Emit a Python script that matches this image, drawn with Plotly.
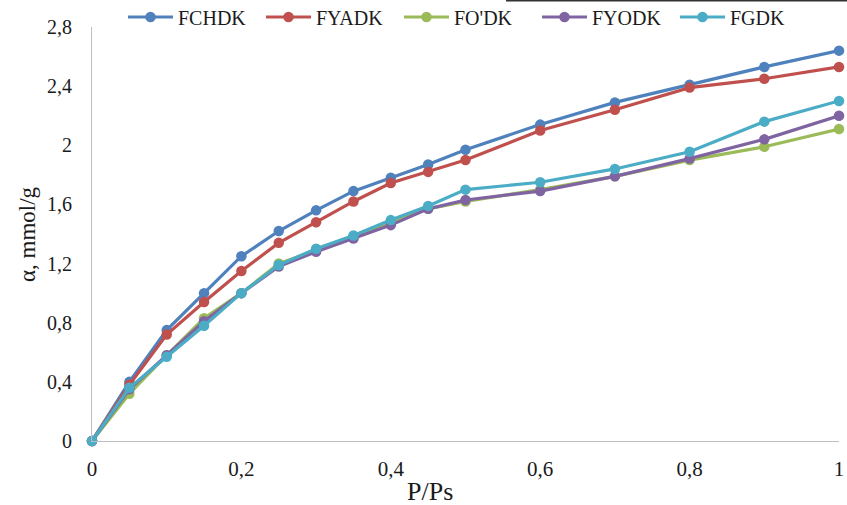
import plotly.graph_objects as go

x_vals = [0, 0.05, 0.1, 0.15, 0.2, 0.25, 0.3, 0.35, 0.4, 0.45, 0.5, 0.6, 0.7, 0.8, 0.9, 1.0]

fchdk = [0, 0.40, 0.75, 1.00, 1.25, 1.42, 1.56, 1.69, 1.78, 1.87, 1.97, 2.14, 2.29, 2.41, 2.53, 2.64]
fyadk = [0, 0.38, 0.72, 0.94, 1.15, 1.34, 1.48, 1.62, 1.745, 1.82, 1.90, 2.10, 2.24, 2.39, 2.45, 2.53]
fodk  = [0, 0.32, 0.58, 0.83, 1.00, 1.20, 1.29, 1.38, 1.48, 1.57, 1.62, 1.70, 1.79, 1.90, 1.99, 2.11]
fyodk = [0, 0.35, 0.58, 0.81, 1.00, 1.18, 1.28, 1.37, 1.46, 1.57, 1.63, 1.69, 1.79, 1.91, 2.04, 2.20]
fgdk  = [0, 0.36, 0.57, 0.78, 1.00, 1.19, 1.30, 1.39, 1.494, 1.59, 1.70, 1.75, 1.84, 1.956, 2.16, 2.30]

series_names = ["FCHDK", "FYADK", "FO'DK", "FYODK", "FGDK"]
series_vals = [fchdk, fyadk, fodk, fyodk, fgdk]
colors = ["#4F81BD", "#C0504D", "#9BBB59", "#8064A2", "#4BACC6"]

x_ticks = [0, 0.2, 0.4, 0.6, 0.8, 1.0]
y_ticks = [0, 0.4, 0.8, 1.2, 1.6, 2.0, 2.4, 2.8]

fig = go.Figure()
for name, vals, c in zip(series_names, series_vals, colors):
    fig.add_trace(go.Scatter(
        x=x_vals, y=vals, name=name, mode="lines+markers",
        line=dict(color=c, width=3.2),
        marker=dict(color=c, size=10.5, symbol="circle"),
        cliponaxis=False,
    ))

serif = "Liberation Serif, Times New Roman, serif"
H = 441.0  # plot-region height in px (margin t=0)

fig.update_layout(
    width=847, height=505,
    margin=dict(l=92, r=8, t=0, b=64, autoexpand=False),
    paper_bgcolor="white", plot_bgcolor="white",
    separators=", ",
    font=dict(family=serif, color="#1a1a1a", size=20),
    showlegend=True,
    legend=dict(
        orientation="h", x=(123 - 92) / 747, xanchor="left",
        y=(441 - 17) / H, yanchor="middle",
        font=dict(family=serif, size=20, color="#1a1a1a"),
        bgcolor="rgba(0,0,0,0)", itemwidth=45, entrywidth=78,
    ),
    xaxis=dict(
        range=[0, 1], tickvals=x_ticks, showgrid=False, zeroline=False,
        showline=True, linecolor="#BFBFBF", linewidth=1,
        ticks="", ticklabelstandoff=9, automargin=False,
        tickfont=dict(family=serif, size=21, color="#1a1a1a"),
    ),
    yaxis=dict(
        range=[0, 2.8], tickvals=y_ticks, showgrid=False, zeroline=False,
        showline=True, linecolor="#BFBFBF", linewidth=1,
        domain=[0, 414 / H], automargin=False,
        ticks="", ticklabelstandoff=15,
        tickfont=dict(family=serif, size=20, color="#1a1a1a"),
    ),
    annotations=[
        dict(text="α, mmol/g", xref="paper", yref="paper",
             x=(28 - 92) / 747, y=(441 - 234) / H, textangle=-90,
             showarrow=False, xanchor="center", yanchor="middle",
             font=dict(family=serif, size=23, color="#1a1a1a")),
        dict(text="P/Ps", xref="paper", yref="paper",
             x=(430 - 92) / 747, y=(441 - 492) / H,
             showarrow=False, xanchor="center", yanchor="middle",
             font=dict(family=serif, size=26, color="#1a1a1a")),
    ],
    shapes=[
        dict(type="line", xref="paper", yref="paper",
             x0=(506 - 92) / 747, x1=(847 - 92) / 747,
             y0=(441 - 0.5) / H, y1=(441 - 0.5) / H,
             line=dict(color="#333333", width=2)),
    ],
)

fig.write_html("out.html", config={"displayModeBar": False},
               post_script="document.body.style.margin='0';")
